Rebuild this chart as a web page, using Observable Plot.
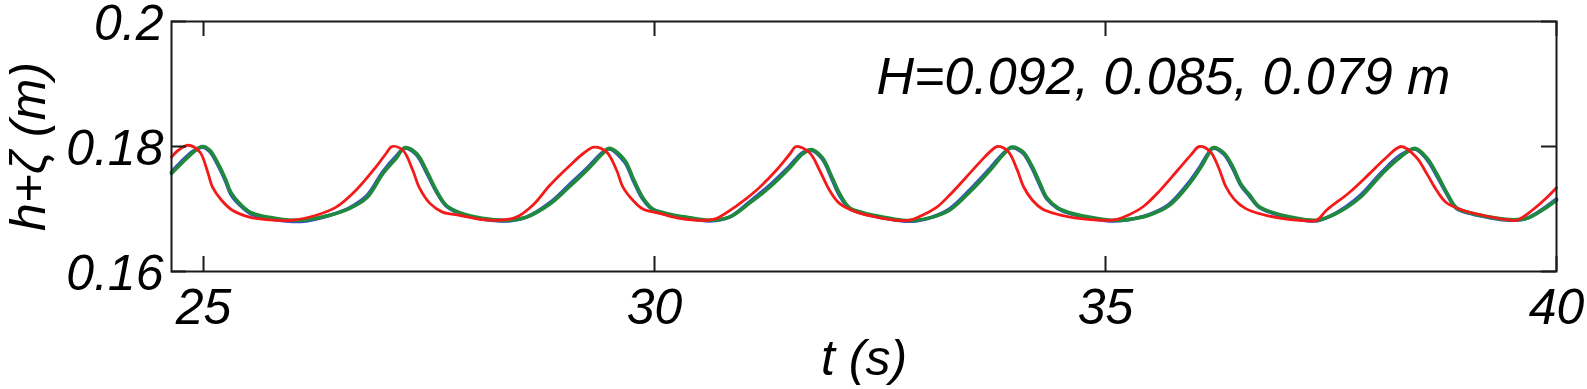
<!DOCTYPE html>
<html>
<head>
<meta charset="utf-8">
<script src="https://cdn.jsdelivr.net/npm/d3@7"></script>
<script src="https://cdn.jsdelivr.net/npm/@observablehq/plot@0.6"></script>
<style>
  html, body { margin: 0; padding: 0; background: #fff; }
  #chart svg { display: block; }
</style>
</head>
<body>
<div id="chart"></div>
<script>
// ---- data (t in s, h+zeta in m) ----
const redSeries = [
  [24.645,0.1783],[24.72,0.1794],[24.83,0.1802],[24.96,0.1791],[25.04,0.1762],[25.10,0.1735],
  [25.20,0.1714],[25.32,0.1698],[25.51,0.1687],[25.70,0.1683],[25.98,0.1682],[26.25,0.1690],
  [26.47,0.1703],[26.69,0.1730],[26.91,0.1767],[27.02,0.1788],[27.09,0.1800],[27.21,0.1794],
  [27.32,0.1762],[27.39,0.1735],[27.51,0.1709],[27.65,0.1695],[27.84,0.1690],[28.09,0.1683],
  [28.28,0.1682],[28.47,0.1687],[28.65,0.1706],[28.84,0.1738],[29.05,0.1768],[29.22,0.1790],
  [29.33,0.1799],[29.47,0.1791],[29.58,0.1762],[29.65,0.1735],[29.76,0.1714],[29.87,0.1700],
  [30.06,0.1693],[30.28,0.1685],[30.58,0.1682],[30.69,0.1685],[30.91,0.1705],[31.13,0.1730],
  [31.35,0.1762],[31.50,0.1788],[31.57,0.1800],[31.72,0.1790],[31.83,0.1762],[31.94,0.1730],
  [32.05,0.1709],[32.24,0.1695],[32.46,0.1687],[32.68,0.1682],[32.83,0.1682],[32.97,0.1690],
  [33.13,0.1703],[33.27,0.1722],[33.45,0.1750],[33.62,0.1777],[33.73,0.1793],[33.80,0.1800],
  [33.92,0.1792],[34.02,0.1763],[34.09,0.1736],[34.19,0.1714],[34.30,0.1700],[34.48,0.1691],
  [34.70,0.1685],[34.95,0.1682],[35.12,0.1683],[35.25,0.1690],[35.42,0.1704],[35.60,0.1729],
  [35.80,0.1762],[35.95,0.1787],[36.04,0.1800],[36.16,0.1792],[36.26,0.1764],[36.33,0.1737],
  [36.43,0.1715],[36.55,0.1701],[36.72,0.1692],[36.95,0.1685],[37.15,0.1682],[37.34,0.1682],
  [37.45,0.1698],[37.70,0.1726],[37.93,0.1757],[38.11,0.1782],[38.28,0.1800],[38.45,0.1782],
  [38.56,0.1757],[38.67,0.1730],[38.78,0.1710],[38.96,0.1698],[39.18,0.1690],[39.45,0.1683],
  [39.56,0.1682],[39.73,0.1698],[39.89,0.1718],[40.00,0.1734]
];
const greenSeries = [
  [24.645,0.1757],[24.75,0.1772],[24.88,0.1790],[24.99,0.1800],[25.07,0.1794],[25.16,0.1773],
  [25.24,0.1749],[25.31,0.1725],[25.42,0.1706],[25.53,0.1694],[25.76,0.1686],[25.99,0.1682],
  [26.14,0.1683],[26.40,0.1690],[26.62,0.1701],[26.81,0.1718],[26.99,0.1757],[27.14,0.1782],
  [27.23,0.1798],[27.36,0.1789],[27.47,0.1762],[27.58,0.1730],[27.69,0.1706],[27.84,0.1694],
  [28.09,0.1685],[28.39,0.1682],[28.58,0.1687],[28.84,0.1708],[29.05,0.1735],[29.27,0.1765],
  [29.42,0.1788],[29.50,0.1797],[29.67,0.1778],[29.76,0.1750],[29.87,0.1718],[29.98,0.1700],
  [30.13,0.1693],[30.35,0.1687],[30.61,0.1682],[30.83,0.1687],[31.05,0.1709],[31.27,0.1734],
  [31.50,0.1766],[31.64,0.1788],[31.74,0.1795],[31.86,0.1782],[31.97,0.1750],[32.05,0.1725],
  [32.16,0.1702],[32.31,0.1694],[32.53,0.1687],[32.75,0.1682],[32.90,0.1682],[33.08,0.1687],
  [33.27,0.1698],[33.50,0.1728],[33.72,0.1762],[33.86,0.1786],[33.96,0.1799],[34.08,0.1792],
  [34.18,0.1770],[34.27,0.1742],[34.35,0.1718],[34.47,0.1702],[34.60,0.1694],[34.82,0.1687],
  [35.05,0.1682],[35.25,0.1683],[35.48,0.1690],[35.70,0.1705],[35.90,0.1735],[36.05,0.1765],
  [36.13,0.1785],[36.19,0.1798],[36.31,0.1790],[36.41,0.1768],[36.50,0.1740],[36.60,0.1722],
  [36.70,0.1704],[36.84,0.1695],[37.05,0.1687],[37.34,0.1682],[37.56,0.1693],[37.82,0.1718],
  [38.07,0.1757],[38.26,0.1782],[38.43,0.1797],[38.56,0.1782],[38.67,0.1757],[38.78,0.1727],
  [38.89,0.1702],[39.04,0.1694],[39.26,0.1687],[39.48,0.1683],[39.67,0.1685],[39.84,0.1698],
  [40.00,0.1714]
];
const blueSeries = [
  [24.645,0.1759],[24.75,0.1775],[24.88,0.1792],[24.99,0.1799],[25.07,0.1792],[25.16,0.1770],
  [25.24,0.1746],[25.31,0.1722],[25.42,0.1704],[25.53,0.1692],[25.76,0.1684],[25.99,0.1680],
  [26.14,0.1681],[26.40,0.1690],[26.62,0.1702],[26.81,0.1721],[26.99,0.1760],[27.14,0.1785],
  [27.23,0.1797],[27.36,0.1787],[27.47,0.1759],[27.58,0.1728],[27.69,0.1705],[27.84,0.1693],
  [28.09,0.1684],[28.39,0.1681],[28.58,0.1687],[28.84,0.1710],[29.05,0.1738],[29.27,0.1768],
  [29.42,0.1790],[29.50,0.1796],[29.67,0.1775],[29.76,0.1747],[29.87,0.1716],[29.98,0.1699],
  [30.13,0.1692],[30.35,0.1686],[30.61,0.1681],[30.83,0.1687],[31.05,0.1711],[31.27,0.1737],
  [31.50,0.1769],[31.64,0.1790],[31.74,0.1794],[31.86,0.1780],[31.97,0.1747],[32.05,0.1722],
  [32.16,0.1701],[32.31,0.1693],[32.53,0.1686],[32.75,0.1681],[32.90,0.1681],[33.08,0.1687],
  [33.27,0.1700],[33.50,0.1731],[33.72,0.1765],[33.86,0.1788],[33.96,0.1798],[34.08,0.1790],
  [34.18,0.1767],[34.27,0.1739],[34.35,0.1716],[34.47,0.1701],[34.60,0.1693],[34.82,0.1686],
  [35.05,0.1681],[35.25,0.1683],[35.48,0.1691],[35.70,0.1707],[35.90,0.1738],[36.05,0.1768],
  [36.13,0.1787],[36.19,0.1797],[36.31,0.1788],[36.41,0.1765],[36.50,0.1738],[36.60,0.1720],
  [36.70,0.1703],[36.84,0.1694],[37.05,0.1686],[37.34,0.1681],[37.56,0.1694],[37.82,0.1721],
  [38.07,0.1760],[38.26,0.1785],[38.43,0.1796],[38.56,0.1780],[38.67,0.1754],[38.78,0.1725],
  [38.89,0.1701],[39.04,0.1693],[39.26,0.1686],[39.48,0.1682],[39.67,0.1685],[39.84,0.1699],
  [40.00,0.1716]
];
const xTicks = [25, 30, 35, 40];
const xTickLabels = ["25", "30", "35", "40"];
const yTicks = [0.16, 0.18, 0.2];
const yTickLabels = ["0.16", "0.18", "0.2"];
const xLabel = "t (s)";
const yLabel = "h+\u03B6 (m)";
const annotation = "H=0.092, 0.085, 0.079 m";

// ---- layout ----
const W = 1587, H = 389;
const mL = 171, mR = 31, mT = 21, mB = 118;
const plotW = W - mL - mR, plotH = H - mT - mB;
const tickLen = 15;
const font = "'Liberation Sans', Arial, sans-serif";
const fs = 50;

const rows = (arr) => arr.map(([t, v]) => ({t, v}));

const chart = Plot.plot({
  width: W, height: H,
  marginLeft: mL, marginRight: mR, marginTop: mT, marginBottom: mB,
  style: {background: "#fff", color: "#000", fontFamily: font},
  x: {domain: [24.645, 40], axis: null},
  y: {domain: [0.16, 0.2], axis: null},
  marks: [
    Plot.line(rows(blueSeries), {x: "t", y: "v", stroke: "#3a52c4", strokeWidth: 3.6, curve: "catmull-rom"}),
    Plot.line(rows(greenSeries), {x: "t", y: "v", stroke: "#1f8a3c", strokeWidth: 3.6, curve: "catmull-rom"}),
    Plot.line(rows(redSeries), {x: "t", y: "v", stroke: "#f41a1a", strokeWidth: 2.8, curve: "catmull-rom"}),
    Plot.frame({stroke: "#1a1a1a", strokeWidth: 2}),
    Plot.ruleX(xTicks, {stroke: "#1a1a1a", strokeWidth: 2, insetBottom: plotH - tickLen}),
    Plot.ruleX(xTicks, {stroke: "#1a1a1a", strokeWidth: 2, insetTop: plotH - tickLen}),
    Plot.ruleY(yTicks, {stroke: "#1a1a1a", strokeWidth: 2, insetRight: plotW - tickLen}),
    Plot.ruleY(yTicks, {stroke: "#1a1a1a", strokeWidth: 2, insetLeft: plotW - tickLen}),
    Plot.axisX(xTicks, {anchor: "bottom", tickSize: 0, tickPadding: 17, label: null,
      tickFormat: d => xTickLabels[xTicks.indexOf(d)],
      fontSize: fs, fontStyle: "italic", fontFamily: font, fill: "#000"}),
    Plot.axisY(yTicks, {anchor: "left", tickSize: 0, tickPadding: 8, label: null, dy: 2,
      tickFormat: d => yTickLabels[yTicks.indexOf(d)],
      fontSize: fs, fontStyle: "italic", fontFamily: font, fill: "#000"}),
    Plot.text([xLabel], {frameAnchor: "bottom", textAnchor: "middle", dy: 103, fontSize: fs,
      fontStyle: "italic", fontFamily: font, fill: "#000"}),
    Plot.text([yLabel], {frameAnchor: "left", textAnchor: "middle", dx: -143, rotate: -90,
      fontSize: fs, fontStyle: "italic", fontFamily: font, fill: "#000"}),
    Plot.text([annotation], {frameAnchor: "top-left", dx: 705, dy: 36, textAnchor: "start",
      lineAnchor: "top", fontSize: 52, fontStyle: "italic", fontFamily: font, fill: "#000"})
  ]
});
document.getElementById("chart").appendChild(chart);
</script>
</body>
</html>
